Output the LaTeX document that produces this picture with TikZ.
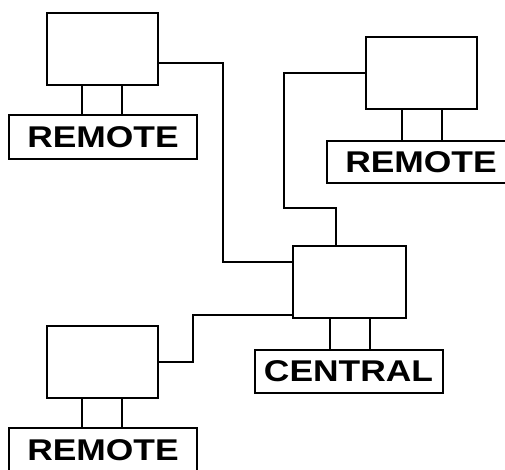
\documentclass[tikz,border=0pt]{standalone}
\usepackage{fontspec}
\newfontfamily\tagfont[FakeStretch=1.18]{Liberation Sans}
\usetikzlibrary{positioning}

\begin{document}
\begin{tikzpicture}[x=1pt, y=1pt, line width=2pt,
    station/.style={rectangle, draw=black, fill=white, minimum width=111pt, minimum height=72pt, inner sep=0pt},
    tag/.style={rectangle, draw=black, fill=white, minimum width=188pt, minimum height=44pt, inner sep=0pt, font=\tagfont\bfseries\fontsize{30}{33}\selectfont}]
    \clip (0,0) rectangle (505,470);

    % stations
    \node [station] (tl) at (102,421) {};
    \node [station] (tr) at (421.5,397) {};
    \node [station, minimum width=113pt] (cen) at (349.5,188) {};
    \node [station] (bl) at (102,108) {};

    % name tags
    \node [tag] (tltag) at (103,333) {REMOTE};
    \node [tag, minimum height=42pt] (trtag) at (421,307.5) {REMOTE};
    \node [tag, minimum height=43pt] (centag) at (348.5,98.5) {CENTRAL};
    \node [tag] (bltag) at (103,20) {REMOTE};

    % bends of the cables
    \coordinate (bend1) at (223,300);
    \coordinate (bend2) at (284,330);
    \coordinate (bend3) at (336,262);
    \coordinate (bend4) at (193,130);

    % stems between station and tag
    \foreach \s/\t in {tl/tltag, tr/trtag, cen/centag, bl/bltag} {
        \draw ([xshift=-20pt]\s.south) -- ([xshift=-20pt]\s.south |- \t.north);
        \draw ([xshift=20pt]\s.south) -- ([xshift=20pt]\s.south |- \t.north);
    }

    % cables to the central station
    \draw ([yshift=-14pt]tl.east) -| (bend1) |- ([yshift=20pt]cen.west);
    \draw (tr.west) -| (bend2) |- (bend3) -- (bend3 |- cen.north);
    \draw ([yshift=-33pt]cen.west) -| (bend4) |- (bl.east);
\end{tikzpicture}
\end{document}
